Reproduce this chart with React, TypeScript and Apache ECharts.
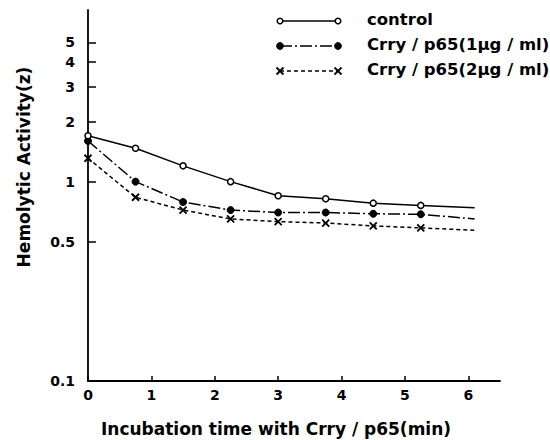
import React, { useEffect, useRef } from "react";
import * as echarts from "echarts";

// Incubation time (min)
const controlData: [number, number][] = [
  [0, 1.7], [0.75, 1.47], [1.5, 1.2], [2.25, 1.0], [3, 0.85],
  [3.75, 0.82], [4.5, 0.78], [5.25, 0.76], [6.1, 0.74],
];
const crry1Data: [number, number][] = [
  [0, 1.6], [0.75, 1.0], [1.5, 0.79], [2.25, 0.72], [3, 0.7],
  [3.75, 0.7], [4.5, 0.69], [5.25, 0.686], [6.1, 0.65],
];
const crry2Data: [number, number][] = [
  [0, 1.31], [0.75, 0.835], [1.5, 0.72], [2.25, 0.65], [3, 0.63],
  [3.75, 0.62], [4.5, 0.6], [5.25, 0.586], [6.1, 0.57],
];
const seriesNames = ["control", "Crry / p65(1μg / ml)", "Crry / p65(2μg / ml)"];
const xTicks = [0, 1, 2, 3, 4, 5, 6];
const yTicks = [0.1, 0.5, 1, 2, 3, 4, 5];
const xTitle = "Incubation time with Crry / p65(min)";
const yTitle = "Hemolytic Activity(z)";

const FONT = '"DejaVu Sans", sans-serif';
const CROSS = "path://M0,0L10,10M10,0L0,10";
const DASH_DOT = [12, 3, 2, 3];
const DASHED = [4, 3];

// last point of each curve has no marker
const toData = (arr: [number, number][]) =>
  arr.map((p, i) => (i === arr.length - 1 ? { value: p, symbol: "none" } : { value: p }));

export default function App() {
  const ref = useRef<HTMLDivElement>(null);
  useEffect(() => {
    if (!ref.current) return;
    const chart = echarts.init(ref.current, undefined, { renderer: "svg" });
    const lx1 = 280, lx2 = 338, tx = 367;
    const rows = [21, 46, 71];
    const g: any[] = [];
    // row 1: solid with open circles
    g.push({ type: "line", shape: { x1: lx1, y1: rows[0], x2: lx2, y2: rows[0] }, style: { stroke: "#000", lineWidth: 1.5 } });
    [lx1, lx2].forEach((x) => g.push({ type: "circle", shape: { cx: x, cy: rows[0], r: 2.8 }, style: { fill: "#fff", stroke: "#000", lineWidth: 1.5 } }));
    // row 2: dash-dot with filled circles
    g.push({ type: "line", shape: { x1: lx1, y1: rows[1], x2: lx2, y2: rows[1] }, style: { stroke: "#000", lineWidth: 1.5, lineDash: DASH_DOT } });
    [lx1, lx2].forEach((x) => g.push({ type: "circle", shape: { cx: x, cy: rows[1], r: 3.4 }, style: { fill: "#000", stroke: "#000", lineWidth: 1 } }));
    // row 3: dashed with crosses
    g.push({ type: "line", shape: { x1: lx1, y1: rows[2], x2: lx2, y2: rows[2] }, style: { stroke: "#000", lineWidth: 1.5, lineDash: DASHED } });
    [lx1, lx2].forEach((x) => {
      g.push({ type: "line", shape: { x1: x - 3.5, y1: rows[2] - 3.5, x2: x + 3.5, y2: rows[2] + 3.5 }, style: { stroke: "#000", lineWidth: 1.8 } });
      g.push({ type: "line", shape: { x1: x - 3.5, y1: rows[2] + 3.5, x2: x + 3.5, y2: rows[2] - 3.5 }, style: { stroke: "#000", lineWidth: 1.8 } });
    });
    seriesNames.forEach((name, i) => {
      g.push({
        type: "text",
        x: tx,
        y: rows[i] - 2,
        style: { text: name, font: `bold 16.5px ${FONT}`, fill: "#000", align: "left", verticalAlign: "middle", textAlign: "left", textVerticalAlign: "middle" },
      });
    });
    // axis titles
    g.push({
      type: "text", x: 276, y: 429,
      style: { text: xTitle, font: `bold 17px ${FONT}`, fill: "#000", align: "center", verticalAlign: "middle", textAlign: "center", textVerticalAlign: "middle" },
    });
    g.push({
      type: "text", x: 24, y: 167, rotation: Math.PI / 2,
      style: { text: yTitle, font: `bold 17px ${FONT}`, fill: "#000", align: "center", verticalAlign: "middle", textAlign: "center", textVerticalAlign: "middle" },
    });

    chart.setOption({
      animation: false,
      backgroundColor: "#fff",
      grid: { left: 88, right: 50, top: 10, bottom: 59, containLabel: false },
      xAxis: {
        type: "value",
        min: 0,
        max: 6.5,
        interval: 1,
        axisLine: { show: true, lineStyle: { color: "#000", width: 1.8 } },
        axisTick: { show: true, inside: true, length: 5, customValues: xTicks, lineStyle: { color: "#000", width: 1.5 } },
        axisLabel: { customValues: xTicks, margin: 7, color: "#000", fontFamily: FONT, fontWeight: "bold", fontSize: 14 },
        splitLine: { show: false },
      },
      yAxis: {
        type: "log",
        logBase: 10,
        min: 0.1,
        max: 7.26,
        axisLine: { show: true, lineStyle: { color: "#000", width: 1.8 } },
        axisTick: { show: true, inside: true, length: 8, customValues: yTicks, lineStyle: { color: "#000", width: 1.5 } },
        axisLabel: {
          customValues: yTicks,
          margin: 13,
          color: "#000",
          fontFamily: FONT,
          fontWeight: "bold",
          fontSize: 14,
          formatter: (v: number) => String(Math.round(v * 10) / 10),
        },
        splitLine: { show: false },
        minorTick: { show: false },
      },
      graphic: g,
      series: [
        {
          name: seriesNames[0],
          type: "line",
          data: toData(controlData),
          symbol: "circle",
          symbolSize: 6,
          z: 3,
          lineStyle: { color: "#000", width: 1.5, type: "solid" },
          itemStyle: { color: "#fff", borderColor: "#000", borderWidth: 1.5 },
        },
        {
          name: seriesNames[1],
          type: "line",
          data: toData(crry1Data),
          symbol: "circle",
          symbolSize: 7,
          z: 2,
          lineStyle: { color: "#000", width: 1.5, type: DASH_DOT },
          itemStyle: { color: "#000", borderColor: "#000", borderWidth: 1 },
        },
        {
          name: seriesNames[2],
          type: "line",
          data: toData(crry2Data),
          symbol: CROSS,
          symbolSize: 7,
          z: 2,
          lineStyle: { color: "#000", width: 1.5, type: DASHED },
          itemStyle: { color: "#000", borderColor: "#000", borderWidth: 1.8 },
        },
      ],
    });
    return () => chart.dispose();
  }, []);
  return (
    <div
      ref={ref}
      style={{ position: "fixed", left: 0, top: 0, width: 550, height: 440, background: "#fff" }}
    />
  );
}
